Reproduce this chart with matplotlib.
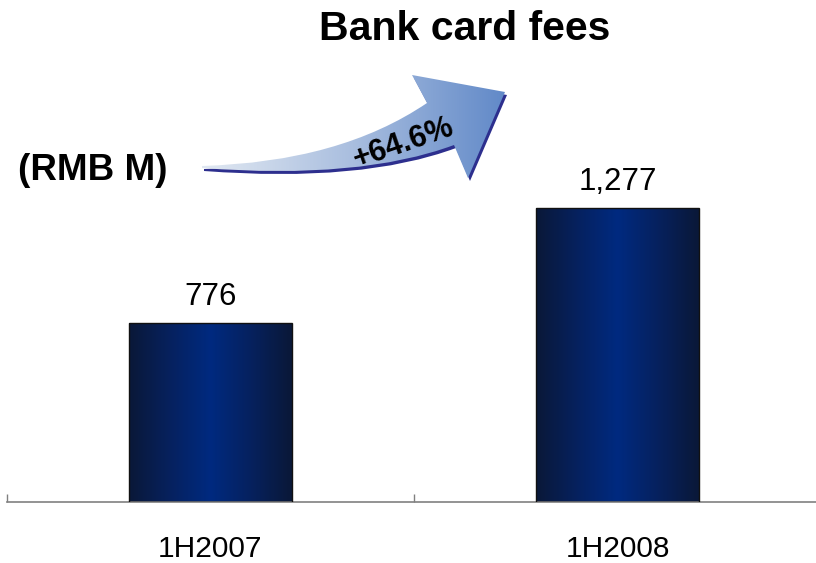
import numpy as np
import matplotlib
matplotlib.use("Agg")
from matplotlib import pyplot as plt
from matplotlib.path import Path
from matplotlib.patches import PathPatch
from matplotlib.colors import LinearSegmentedColormap

plt.rcParams["font.family"] = ["Liberation Sans", "DejaVu Sans"]

periods = ["1H2007", "1H2008"]
fees = [776, 1277]
growth = "+64.6%"

W, H = 816, 563
fig = plt.figure(figsize=(W / 100, H / 100), dpi=100)

# main bar axes, bottom spine only
ax = fig.add_axes([7 / W, (H - 502) / H, 814 / W, 502 / H])
for s in ["top", "right", "left"]:
    ax.spines[s].set_visible(False)
ax.spines["bottom"].set_color("#808080")
ax.spines["bottom"].set_linewidth(1.2)
ax.set_yticks([])
ax.set_xticks([-0.5, 0.5, 1.5])
ax.set_xticklabels([])
ax.tick_params(axis="x", which="major", direction="in", length=6, color="#808080", width=1)
ax.set_xticks([0, 1], minor=True)
ax.set_xticklabels(periods, minor=True, fontsize=21.5)
ax.tick_params(axis="x", which="minor", length=0, pad=24)

bar_cmap = LinearSegmentedColormap.from_list(
    "navy", ["#0a1838", "#06215e", "#002a80", "#06215e", "#0a1838"])
grad = np.linspace(0, 1, 256).reshape(1, -1)
bars = ax.bar(range(len(fees)), fees, width=0.4, color="none",
              edgecolor="#111111", linewidth=1.0, zorder=3)
for b, v in zip(bars, fees):
    x0 = b.get_x()
    im = ax.imshow(grad, cmap=bar_cmap, aspect="auto", zorder=2,
                   extent=[x0, x0 + b.get_width(), 0, v])
    im.set_clip_path(b)
    ax.text(b.get_x() + b.get_width() / 2, v + 78, f"{v:,}",
            ha="center", va="baseline", fontsize=22.5)
ax.set_xlim(-0.5, 1.5)
ax.set_ylim(0, 2180)

# overlay in pixel units for title, unit label and growth arrow
ov = fig.add_axes([0, 0, 1, 1])
ov.axis("off")
ov.patch.set_alpha(0)

ov.text(465, 29, "Bank card fees", ha="center", va="center",
        fontsize=29.5, fontweight="bold")
ov.text(92.5, 171, "(RMB M)", ha="center", va="center",
        fontsize=26.5, fontweight="bold")


def arrow_path(dx=0, dy=0):
    verts = [(202, 166), (340, 162), (427, 103),
             (412, 75), (505, 92), (468, 178), (454, 145),
             (360, 180), (202, 168), (202, 166)]
    codes = [Path.MOVETO, Path.CURVE3, Path.CURVE3,
             Path.LINETO, Path.LINETO, Path.LINETO, Path.LINETO,
             Path.CURVE3, Path.CURVE3, Path.CLOSEPOLY]
    return Path([(x + dx, y + dy) for x, y in verts], codes)


ov.add_patch(PathPatch(arrow_path(2, 3), facecolor="#2d2f8e",
                       edgecolor="none", zorder=1))
arrow = PathPatch(arrow_path(), facecolor="none", edgecolor="none", zorder=2)
ov.add_patch(arrow)
arr_cmap = LinearSegmentedColormap.from_list("sky", ["#e2e9f2", "#a9bedf", "#6189c8"])
im = ov.imshow(grad, cmap=arr_cmap, aspect="auto", zorder=2,
               extent=[200, 506, 180, 72])
im.set_clip_path(arrow)
ov.set_xlim(0, W)
ov.set_ylim(H, 0)

ov.text(404, 143, growth, ha="center", va="center", rotation=19,
        fontsize=22, fontweight="bold", zorder=3)

fig.savefig("out.png", dpi=100)
